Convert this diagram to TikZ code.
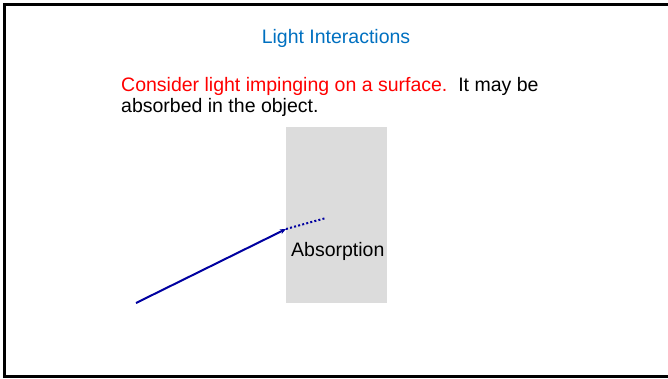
\documentclass[tikz,border=0pt]{standalone}
\usepackage{fontspec}
\setmainfont{Liberation Sans}
\usetikzlibrary{arrows.meta}
\definecolor{titleblue}{RGB}{0,112,192}
\definecolor{raydark}{RGB}{0,0,160}
\definecolor{objgray}{RGB}{220,220,220}
\tikzset{
  txt/.style={inner sep=0pt, font=\fontsize{19.5}{22}\selectfont},
  ray/.style={draw=raydark, line width=2pt},
}
\begin{document}
\begin{tikzpicture}[x=1pt,y=-1pt]
\useasboundingbox (0,0) rectangle (668,378);
\begin{scope}
\clip (0,0) rectangle (668,378);
\draw[line width=3pt] (4,4) rectangle (680,376);
\end{scope}
\fill[objgray] (286,127) rectangle (387,303);
\node[txt, text=titleblue, anchor=base] (title) at (336,43) {Light Interactions};
\node[txt, anchor=base west] (l1) at (121,91) {\textcolor{red}{Consider light impinging on a surface.}\ \ It may be};
\node[txt, anchor=base west] (l2) at (121,112) {absorbed in the object.};
\node[txt, anchor=base west] (abs) at (291,256) {Absorption};
\coordinate (s) at (136,303);
\coordinate (h) at (286,229);
\coordinate (e) at (326,218);
\draw[ray, -{Stealth[length=6pt,width=5pt]}] (s) -- (h);
\draw[ray, dash pattern=on 2pt off 2.2pt] (h) -- (e);
\end{tikzpicture}
\end{document}
